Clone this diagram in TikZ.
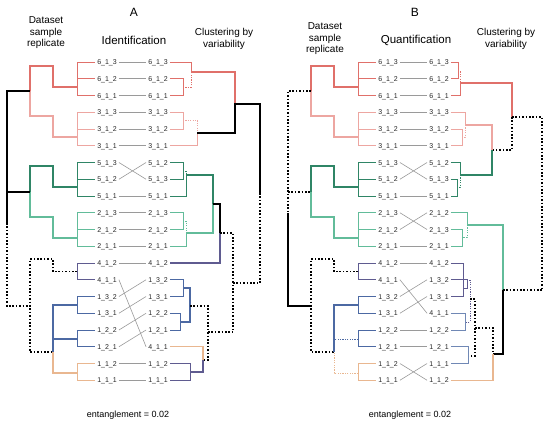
\documentclass[tikz,border=0pt]{standalone}
\usepackage{fontspec}
\setmainfont{Liberation Sans}
\definecolor{redA}{HTML}{E0706A}
\definecolor{redB}{HTML}{EDA6A1}
\definecolor{grnA}{HTML}{2F8566}
\definecolor{grnB}{HTML}{62BC9A}
\definecolor{purA}{HTML}{5F5B90}
\definecolor{bluA}{HTML}{4C69A3}
\definecolor{bluB}{HTML}{7088B5}
\definecolor{orgA}{HTML}{E9B790}
\definecolor{lnk}{HTML}{9A9A9A}
\tikzset{
  lbl/.style={font=\fontsize{7}{8}\selectfont, inner sep=2pt, text height=5pt, text depth=0pt, anchor=center, text=black!85},
  hdr/.style={font=\fontsize{10}{11.5}\selectfont, align=center, inner sep=0pt},
  ttl/.style={font=\fontsize{11.5}{13}\selectfont, inner sep=0pt},
  pl/.style={font=\fontsize{12}{13}\selectfont, inner sep=0pt},
  ent/.style={font=\fontsize{9}{11}\selectfont, inner sep=0pt},
  link/.style={draw=lnk, line width=0.6pt},
  brn/.style={line width=0.9pt},
  brk/.style={line width=1.4pt},
  rootk/.style={line width=1.5pt, black},
  dotblk/.style={line width=1.5pt, black, dash pattern=on 1.6pt off 1.8pt},
  dotc/.style={line width=0.9pt, dash pattern=on 1.2pt off 1.2pt},
}
\newcommand\lefttreecommon[1]{%
  % red 6
  \foreach \i in {0,1,2} \draw[brn,redA] (77,{62+16.75*\i}) -- (L#1\i.west);
  \draw[brn,redA] (77,62) -- (77,95.5);
  \draw[brk,redA] (77,87) -- (53,87) -- (53,66) -- (30,66) -- (30,91);
  % red 3
  \foreach \i in {3,4,5} \draw[brn,redB] (77,{62+16.75*\i}) -- (L#1\i.west);
  \draw[brn,redB] (77,112.25) -- (77,145.75);
  \draw[brk,redB] (77,137) -- (53,137) -- (53,116) -- (30,116) -- (30,91);
  % green 5
  \foreach \i in {6,7,8} \draw[brn,grnA] (77,{62+16.75*\i}) -- (L#1\i.west);
  \draw[brn,grnA] (77,162.5) -- (77,196);
  \draw[brk,grnA] (77,187) -- (53,187) -- (53,166) -- (30,166) -- (30,192);
  % green 2
  \foreach \i in {9,10,11} \draw[brn,grnB] (77,{62+16.75*\i}) -- (L#1\i.west);
  \draw[brn,grnB] (77,212.75) -- (77,246.25);
  \draw[brk,grnB] (77,238) -- (53,238) -- (53,217) -- (30,217) -- (30,192);
  % purple 4
  \foreach \i in {12,13} \draw[brn,purA] (77,{62+16.75*\i}) -- (L#1\i.west);
  \draw[brn,purA] (77,263) -- (77,279.75);
  \draw[dotblk] (77,271.5) -- (53,271.5) -- (53,259) -- (30,259) -- (30,352) -- (53,352);
  % blue 1_3, 1_2
  \foreach \i in {14,15,16,17} \draw[brn,bluA] (77,{62+16.75*\i}) -- (L#1\i.west);
  \draw[brn,bluA] (77,296.5) -- (77,313.25);
  \draw[brn,bluA] (77,330) -- (77,346.75);
  \draw[brk,bluA] (77,305) -- (53,305) -- (53,352);
  % orange 1_1
  \foreach \i in {18,19} \draw[brn,orgA] (77,{62+16.75*\i}) -- (L#1\i.west);
  \draw[brn,orgA] (77,363.5) -- (77,380.25);
}
\begin{document}
\begin{tikzpicture}[x=1pt,y=-1pt]
\useasboundingbox[fill=white] (0,0) rectangle (550,424);

% ---------- headings ----------
\node[pl]  (pA)  at (134,12) {A};
\node[pl]  (pB)  at (415,12) {B};
\node[hdr] (dsA) at (46,33) {Dataset\\sample\\replicate};
\node[hdr] (dsB) at (325,39) {Dataset\\sample\\replicate};
\node[ttl] (idA) at (134,40) {Identification};
\node[ttl] (qB)  at (416,40) {Quantification};
\node[hdr] (clA) at (224,39) {Clustering by\\variability};
\node[hdr] (clB) at (506,39) {Clustering by\\variability};
\node[ent] (eA)  at (128,415) {entanglement = 0.02};
\node[ent] (eB)  at (410,415) {entanglement = 0.02};

% ---------- labels ----------
\foreach \t [count=\i from 0] in {6\_1\_3,6\_1\_2,6\_1\_1,3\_1\_3,3\_1\_2,3\_1\_1,5\_1\_3,5\_1\_2,5\_1\_1,2\_1\_3,2\_1\_2,2\_1\_1,4\_1\_2,4\_1\_1,1\_3\_2,1\_3\_1,1\_2\_2,1\_2\_1,1\_1\_2,1\_1\_1}
  {\node[lbl] (LA\i) at (107,{62+16.75*\i}) {\t};
   \node[lbl] (LB\i) at (388,{62+16.75*\i}) {\t};}
\foreach \t [count=\i from 0] in {6\_1\_3,6\_1\_2,6\_1\_1,3\_1\_3,3\_1\_2,3\_1\_1,5\_1\_2,5\_1\_3,5\_1\_1,2\_1\_3,2\_1\_2,2\_1\_1,4\_1\_2,1\_3\_2,1\_3\_1,1\_2\_2,1\_2\_1,4\_1\_1,1\_1\_2,1\_1\_1}
  {\node[lbl] (RA\i) at (158,{62+16.75*\i}) {\t};}
\foreach \t [count=\i from 0] in {6\_1\_3,6\_1\_2,6\_1\_1,3\_1\_3,3\_1\_2,3\_1\_1,5\_1\_2,5\_1\_3,5\_1\_1,2\_1\_2,2\_1\_3,2\_1\_1,4\_1\_2,1\_3\_2,1\_3\_1,4\_1\_1,1\_2\_2,1\_2\_1,1\_1\_1,1\_1\_2}
  {\node[lbl] (RB\i) at (439,{62+16.75*\i}) {\t};}

% ---------- links ----------
\foreach \a/\b in {0/0,1/1,2/2,3/3,4/4,5/5,6/7,7/6,8/8,9/9,10/10,11/11,12/12,13/17,14/13,15/14,16/15,17/16,18/18,19/19}
  \draw[link] (LA\a.east) -- (RA\b.west);
\foreach \a/\b in {0/0,1/1,2/2,3/3,4/4,5/5,6/7,7/6,8/8,9/10,10/9,11/11,12/12,13/15,14/13,15/14,16/16,17/17,18/19,19/18}
  \draw[link] (LB\a.east) -- (RB\b.west);

% ---------- A left tree ----------
\lefttreecommon{A}
\draw[brk,bluA] (77,339) -- (53,339);
\draw[brk,orgA] (77,373) -- (53,373) -- (53,352);
\draw[rootk] (30,91) -- (7,91) -- (7,223);
\draw[rootk] (7,192) -- (30,192);
\draw[dotblk] (7,223) -- (7,306) -- (30,306);

% ---------- B left tree ----------
\begin{scope}[xshift=281pt]
\lefttreecommon{B}
\draw[dotc,bluA] (77,339) -- (53,339);
\draw[dotc,orgA] (77,373) -- (53,373) -- (53,352);
\end{scope}
\draw[dotblk] (311,91) -- (288,91) -- (288,213);
\draw[dotblk] (288,192) -- (311,192);
\draw[rootk] (288,213) -- (288,306) -- (311,306);

% ---------- A right tree ----------
\draw[brn,redA] (RA0.east) -- (191,62) -- (191,72);
\draw[brn,redA] (RA1.east) -- (183,78.75) -- (183,95.5) -- (RA2.east);
\draw[dotc,redA] (183,87) -- (191,87) -- (191,72);
\draw[brk,redA] (191,72) -- (235,72) -- (235,104);
\draw[brn,redB] (RA3.east) -- (183,112.25) -- (183,129) -- (RA4.east);
\draw[dotc,redB] (183,120) -- (197,120) -- (197,133);
\draw[brn,redB] (RA5.east) -- (197,145.75) -- (197,133);
\draw[rootk] (197,133) -- (235,133) -- (235,104) -- (260,104) -- (260,193);
\draw[dotblk] (260,193) -- (260,283);
\draw[brn,grnA] (RA6.east) -- (183,162.5) -- (183,179.25) -- (RA7.east);
\draw[dotc,grnA] (183,171) -- (186,171) -- (186,175);
\draw[brn,grnA] (RA8.east) -- (186,196) -- (186,175);
\draw[brk,grnA] (186,175) -- (213,175) -- (213,204);
\draw[brn,grnB] (RA9.east) -- (183,212.75) -- (183,229.5) -- (RA10.east);
\draw[dotc,grnB] (183,221) -- (186,221) -- (186,233);
\draw[brn,grnB] (RA11.east) -- (186,246.25) -- (186,233);
\draw[brk,grnB] (186,233) -- (213,233) -- (213,204);
\draw[rootk] (213,204) -- (220,204) -- (220,233);
\draw[brk,purA] (220,233) -- (220,263) -- (RA12.east);
\draw[dotblk] (220,233) -- (233,233) -- (233,332);
\draw[dotblk] (233,283) -- (260,283);
\draw[brn,bluA] (RA13.east) -- (183,279.75) -- (183,296.5) -- (RA14.east);
\draw[brn,bluA] (RA15.east) -- (180,313.25) -- (180,330) -- (RA16.east);
\draw[brk,bluA] (183,288) -- (190,288) -- (190,322) -- (180,322);
\draw[dotblk] (190,306) -- (208,306) -- (208,360) -- (203,360);
\draw[dotblk] (208,332) -- (233,332);
\draw[brk,orgA] (RA17.east) -- (203,346.75) -- (203,360);
\draw[brn,purA] (RA18.east) -- (190,363.5) -- (190,380.25) -- (RA19.east);
\draw[brk,purA] (190,372) -- (203,372) -- (203,360);

% ---------- B right tree ----------
\draw[brn,redA] (RB0.east) -- (458,62) -- (458,78.75) -- (RB1.east);
\draw[dotc,redA] (458,71) -- (460,71) -- (460,83);
\draw[brn,redA] (RB2.east) -- (460,95.5) -- (460,83);
\draw[brk,redA] (460,83) -- (512,83) -- (512,117);
\draw[dotblk] (512,117) -- (542,117) -- (542,290);
\draw[dotblk] (512,117) -- (512,150) -- (492,150);
\draw[brn,redB] (RB3.east) -- (465,112.25) -- (465,125);
\draw[dotc,redB] (465,125) -- (465,137) -- (462,137);
\draw[brn,redB] (RB4.east) -- (462,129) -- (462,145.75) -- (RB5.east);
\draw[brk,redB] (465,125) -- (492,125) -- (492,150);
\draw[brn,grnA] (RB6.east) -- (460,162.5) -- (460,175);
\draw[dotc,grnA] (460,175) -- (460,187) -- (457,187);
\draw[brn,grnA] (RB7.east) -- (457,179.25) -- (457,196) -- (RB8.east);
\draw[brk,grnA] (460,175) -- (492,175) -- (492,150);
\draw[brn,grnB] (RB9.east) -- (467,212.75) -- (467,225);
\draw[dotc,grnB] (467,225) -- (467,237) -- (462,237);
\draw[brn,grnB] (RB10.east) -- (462,229.5) -- (462,246.25) -- (RB11.east);
\draw[brk,grnB] (467,225) -- (503,225) -- (503,290);
\draw[rootk] (503,290) -- (503,354) -- (493,354);
\draw[dotblk] (503,290) -- (542,290);
\draw[brn,purA] (RB12.east) -- (463,263) -- (463,296.5) -- (RB14.east);
\draw[brn,purA] (RB13.east) -- (467,279.75) -- (467,288) -- (463,288);
\draw[dotc,purA] (467,280) -- (470,280) -- (470,322) -- (465,322);
\draw[dotblk] (470,299) -- (475,299) -- (475,356) -- (468,356);
\draw[dotblk] (475,328) -- (493,328) -- (493,354);
\draw[brn,bluB] (RB15.east) -- (465,313.25) -- (465,330) -- (RB16.east);
\draw[brn,bluB] (RB17.east) -- (468,346.75) -- (468,363.5) -- (RB18.east);
\draw[brk,orgA] (RB19.east) -- (493,380.25) -- (493,354);
\end{tikzpicture}
\end{document}
